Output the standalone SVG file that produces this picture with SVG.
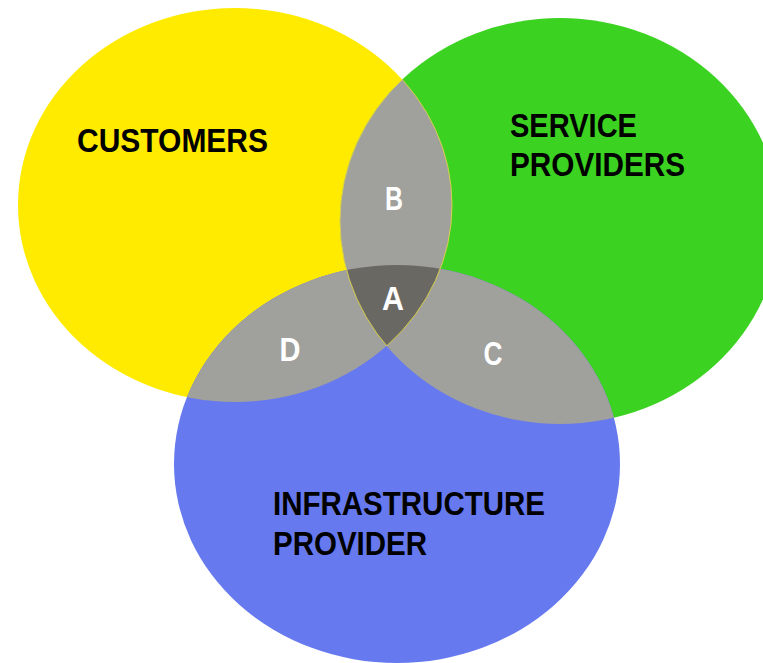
<svg xmlns="http://www.w3.org/2000/svg" width="763" height="663" viewBox="0 0 763 663">
<style>
.lbl{font-family:"Liberation Sans",Arial,sans-serif;font-weight:bold;font-size:33px;fill:#000}
.rg{font-family:"Liberation Sans",Arial,sans-serif;font-weight:bold;font-size:33px;fill:#fff;text-anchor:middle}
.edge{fill:none;stroke:#d8cf50;stroke-width:1}
</style>
<defs>
<ellipse id="eY" cx="235" cy="205" rx="217" ry="197"/>
<ellipse id="eG" cx="560" cy="221" rx="220" ry="203"/>
<ellipse id="eB" cx="397" cy="464" rx="223" ry="199"/>
<clipPath id="cY"><use href="#eY"/></clipPath>
<clipPath id="cG"><use href="#eG"/></clipPath>
<clipPath id="cB"><use href="#eB"/></clipPath>
</defs>
<rect width="763" height="663" fill="#fff"/>
<g id="customers"><use href="#eY" fill="#ffeb00"/></g>
<g id="service-providers"><use href="#eG" fill="#3bd221"/></g>
<g id="infrastructure-provider"><use href="#eB" fill="#6679ee"/></g>
<g id="region-B"><use href="#eG" fill="#a0a09c" clip-path="url(#cY)"/></g>
<g id="region-C"><use href="#eB" fill="#a0a09c" clip-path="url(#cG)"/></g>
<g id="region-D"><use href="#eB" fill="#a0a09c" clip-path="url(#cY)"/></g>
<g id="region-A"><g clip-path="url(#cY)"><use href="#eB" fill="#6a6863" clip-path="url(#cG)"/></g></g>
<g id="connectors">
<g clip-path="url(#cG)"><use href="#eY" class="edge"/></g>
<g clip-path="url(#cY)"><use href="#eG" class="edge"/></g>
</g>
<text class="lbl" x="77" y="152" textLength="191" lengthAdjust="spacingAndGlyphs">CUSTOMERS</text>
<text class="lbl" x="510" y="137" textLength="127" lengthAdjust="spacingAndGlyphs">SERVICE</text>
<text class="lbl" x="510" y="176" textLength="175" lengthAdjust="spacingAndGlyphs">PROVIDERS</text>
<text class="lbl" x="273" y="515" textLength="272" lengthAdjust="spacingAndGlyphs">INFRASTRUCTURE</text>
<text class="lbl" x="273" y="555" textLength="154" lengthAdjust="spacingAndGlyphs">PROVIDER</text>
<text class="rg" x="394" y="210" textLength="18" lengthAdjust="spacingAndGlyphs">B</text>
<text class="rg" x="393" y="310" textLength="22" lengthAdjust="spacingAndGlyphs">A</text>
<text class="rg" x="290" y="361" textLength="21" lengthAdjust="spacingAndGlyphs">D</text>
<text class="rg" x="493" y="365" textLength="19" lengthAdjust="spacingAndGlyphs">C</text>
</svg>
